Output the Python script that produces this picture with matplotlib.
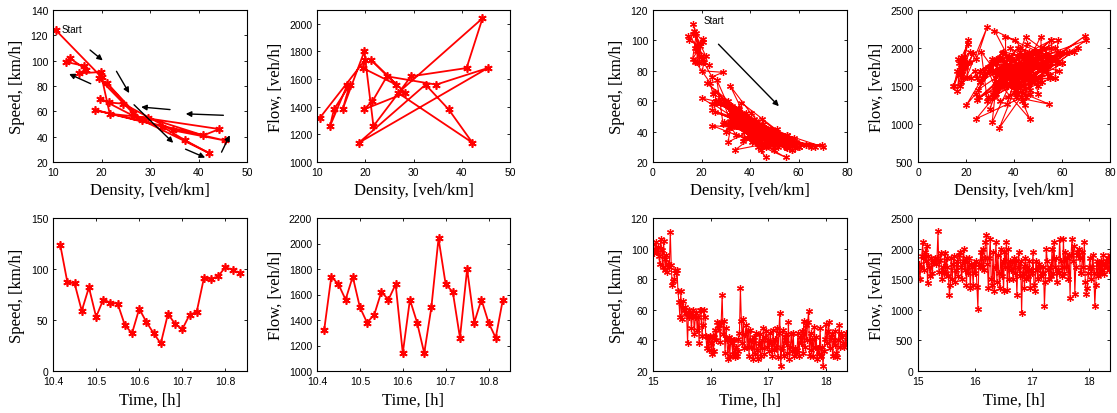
import numpy as np
import matplotlib
matplotlib.use("Agg")
import matplotlib.pyplot as plt

plt.rcParams['font.family'] = ['Liberation Sans', 'DejaVu Sans']
plt.rcParams['xtick.direction'] = 'in'
plt.rcParams['ytick.direction'] = 'in'
plt.rcParams['xtick.top'] = True
plt.rcParams['ytick.right'] = True

# ---- first period (10:25 - 10:50), one value per minute
t1 = 10 + np.arange(25, 51) / 60.0
speed1 = [124, 87, 86, 59, 82, 53, 70, 67, 66, 45, 37, 61, 48, 37, 27,
          56, 46, 41, 55, 58, 91, 90, 93, 102, 99, 96]
flow1 = [1320, 1740, 1680, 1560, 1740, 1500, 1380, 1440, 1620, 1560, 1680,
         1140, 1560, 1380, 1140, 1500, 2040, 1680, 1620, 1260, 1800, 1380,
         1560, 1380, 1260, 1560]
dens1 = [10.6, 20.0, 19.5, 26.4, 21.2, 28.3, 19.7, 21.5, 24.5, 34.7, 45.4,
         18.7, 32.5, 37.3, 42.2, 26.8, 44.3, 41.0, 29.5, 21.7, 19.8, 15.3,
         16.8, 13.5, 12.7, 16.3]

# arrows on the speed-density plot (start x, start y, end x, end y)
arrows1 = [(17.2, 109.8, 20.7, 98.8), (22.8, 93.5, 26.0, 72.5),
           (18.3, 80.9, 12.8, 90.4), (34.7, 61.2, 27.6, 63.6),
           (45.7, 56.8, 36.8, 58.1), (26.3, 66.7, 35.2, 33.6),
           (36.8, 31.0, 41.9, 22.6), (44.5, 25.8, 46.7, 43.1)]

# ---- second period (15:00 - 18:22), one value per minute
speed2 = [103, 97, 100, 104, 98, 101, 95, 90, 106, 99,
          88, 105, 93, 86, 96, 85, 90, 88, 111, 89,
          76, 79, 80, 86, 84, 86, 72, 65, 55, 72,
          54, 66, 60, 62, 58, 57, 38, 60, 55, 58,
          48, 56, 60, 44, 55, 58, 47, 55, 38, 60,
          60, 43, 50, 60, 55, 43, 35, 42, 34, 43,
          38, 31, 43, 33, 42, 47, 40, 52, 48, 50,
          39, 52, 70, 44, 53, 32, 48, 40, 28, 42,
          30, 41, 38, 31, 40, 29, 36, 30, 33, 41,
          45, 74, 53, 38, 54, 35, 44, 50, 36, 46,
          30, 47, 36, 40, 28, 42, 31, 45, 34, 28,
          38, 44, 30, 40, 35, 48, 31, 42, 46, 36,
          40, 33, 45, 38, 30, 47, 34, 41, 36, 48,
          29, 45, 58, 23, 35, 47, 30, 42, 38, 44,
          32, 52, 28, 36, 44, 33, 45, 30, 35, 31,
          34, 45, 30, 42, 38, 46, 32, 53, 36, 50,
          40, 52, 59, 30, 45, 34, 41, 30, 49, 36,
          42, 28, 35, 31, 48, 30, 36, 23, 33, 41,
          51, 38, 46, 52, 35, 42, 44, 30, 40, 37,
          46, 32, 29, 40, 50, 36, 45, 42, 38, 36,
          37, 45, 38]
flow2 = [1500, 1750, 1500, 1700, 1880, 2100, 1650, 1950, 1800, 2050,
         1440, 1880, 1700, 1550, 1850, 1600, 1780, 1800, 1850, 1750,
         1850, 2280, 1620, 1820, 1930, 1500, 1700, 1600, 1930, 1600,
         1850, 1700, 1550, 1250, 1400, 1850, 1500, 1750, 1880, 1450,
         1650, 1800, 1550, 1900, 1950, 1700, 1500, 1800, 2000, 1650,
         1850, 1400, 1780, 1600, 1850, 1350, 1750, 1700, 1400, 1750,
         1600, 1800, 1380, 1020, 1750, 1700, 1950, 1700, 2000, 1650,
         1850, 2100, 2230, 1750, 1350, 1850, 2150, 1500, 1400, 1950,
         1300, 1700, 2100, 1450, 1900, 1600, 1350, 2000, 1550, 1800,
         1300, 1950, 1700, 2100, 1320, 2000, 1500, 1800, 1650, 1780,
         1500, 1850, 1600, 1800, 1250, 1700, 1950, 1550, 1800, 950,
         1600, 1720, 1350, 1850, 1500, 1700, 1550, 1800, 1350, 1650,
         1600, 1950, 1400, 1300, 1800, 1650, 1500, 1750, 1700, 1560,
         1600, 1600, 1700, 1070, 1450, 2000, 1800, 1650, 1500, 1700,
         1550, 2000, 1600, 2100, 1700, 1850, 1450, 1650, 1600, 2160,
         1800, 1700, 1550, 2150, 1600, 1950, 1700, 1850, 1500, 1900,
         1200, 1900, 2150, 1800, 2050, 1260, 1700, 1950, 1900, 2000,
         1850, 1600, 1600, 1950, 1700, 2100, 1450, 1260, 1350, 1600,
         1700, 1850, 1500, 1700, 1900, 1600, 1070, 1400, 1800, 1550,
         1750, 1600, 1700, 1800, 1650, 1900, 1580, 1750, 1800, 1700,
         1850, 1650, 1900]
t2 = 15 + np.arange(len(speed2)) / 60.0
# density from the fundamental relation q = k * v
dens2 = np.array(flow2) / np.array(speed2)

W, H = 1117, 414
fig = plt.figure(figsize=(W / 100, H / 100), dpi=100)


def box(l, r, t, b):
    return [l / W, (H - b) / H, (r - l) / W, (b - t) / H]


lab = dict(family=['Liberation Serif', 'DejaVu Serif'], fontsize=12)


def style(ax, xl, yl):
    ax.set_xlabel(xl, **lab)
    ax.set_ylabel(yl, **lab)
    ax.tick_params(labelsize=7.5, length=2.5, width=0.6)
    for s in ax.spines.values():
        s.set_linewidth(0.8)


ast = (6, 2, 0)  # asterisk marker
ln1 = dict(color='r', marker=ast, ms=6, mew=1.2, lw=1.3)
ln2 = dict(color='r', marker=ast, ms=5, mew=0.9, lw=0.8)

# speed-density, period 1
ax = fig.add_axes(box(53, 247, 11, 163))
ax.plot(dens1, speed1, **ln1)
for x0, y0, x1, y1 in arrows1:
    ax.annotate('', xy=(x1, y1), xytext=(x0, y0),
                arrowprops=dict(arrowstyle='-|>', color='k', lw=1, mutation_scale=8))
ax.text(11.8, 125, 'Start', fontsize=7, va='center')
ax.set_xlim(10, 50)
ax.set_ylim(20, 140)
ax.set_yticks(range(20, 141, 20))
style(ax, 'Density, [veh/km]', 'Speed, [km/h]')

# flow-density, period 1
ax = fig.add_axes(box(317, 510, 11, 163))
ax.plot(dens1, flow1, **ln1)
ax.set_xlim(10, 50)
ax.set_ylim(1000, 2100)
ax.set_yticks(range(1000, 2001, 200))
style(ax, 'Density, [veh/km]', 'Flow, [veh/h]')

# speed-time, period 1
ax = fig.add_axes(box(53, 247, 219, 372))
ax.plot(t1, speed1, **ln1)
ax.set_xlim(10.4, 10.85)
ax.set_ylim(0, 150)
ax.set_yticks([0, 50, 100, 150])
ax.set_xticks([10.4, 10.5, 10.6, 10.7, 10.8])
style(ax, 'Time, [h]', 'Speed, [km/h]')

# flow-time, period 1
ax = fig.add_axes(box(317, 510, 219, 372))
ax.plot(t1, flow1, **ln1)
ax.set_xlim(10.4, 10.85)
ax.set_ylim(1000, 2200)
ax.set_yticks(range(1000, 2201, 200))
ax.set_xticks([10.4, 10.5, 10.6, 10.7, 10.8])
style(ax, 'Time, [h]', 'Flow, [veh/h]')

# speed-density, period 2
ax = fig.add_axes(box(653, 847, 11, 163))
ax.plot(dens2, speed2, **ln2)
ax.annotate('', xy=(52.7, 55.4), xytext=(26.2, 98.8),
            arrowprops=dict(arrowstyle='-|>', color='k', lw=1, mutation_scale=8))
ax.text(20.7, 113.7, 'Start', fontsize=7, va='center')
ax.set_xlim(0, 80)
ax.set_ylim(20, 120)
ax.set_xticks([0, 20, 40, 60, 80])
style(ax, 'Density, [veh/km]', 'Speed, [km/h]')

# flow-density, period 2
ax = fig.add_axes(box(918, 1110, 11, 163))
ax.plot(dens2, flow2, **ln2)
ax.set_xlim(0, 80)
ax.set_ylim(500, 2500)
ax.set_xticks([0, 20, 40, 60, 80])
ax.set_yticks(range(500, 2501, 500))
style(ax, 'Density, [veh/km]', 'Flow, [veh/h]')

# speed-time, period 2
ax = fig.add_axes(box(653, 847, 219, 372))
ax.plot(t2, speed2, **ln2)
ax.set_xlim(15, t2[-1])
ax.set_ylim(20, 120)
ax.set_xticks([15, 16, 17, 18])
style(ax, 'Time, [h]', 'Speed, [km/h]')

# flow-time, period 2
ax = fig.add_axes(box(918, 1110, 219, 372))
ax.plot(t2, flow2, **ln2)
ax.set_xlim(15, t2[-1])
ax.set_ylim(0, 2500)
ax.set_xticks([15, 16, 17, 18])
ax.set_yticks(range(0, 2501, 500))
style(ax, 'Time, [h]', 'Flow, [veh/h]')

fig.savefig('out.png', dpi=100)
plt.close()
